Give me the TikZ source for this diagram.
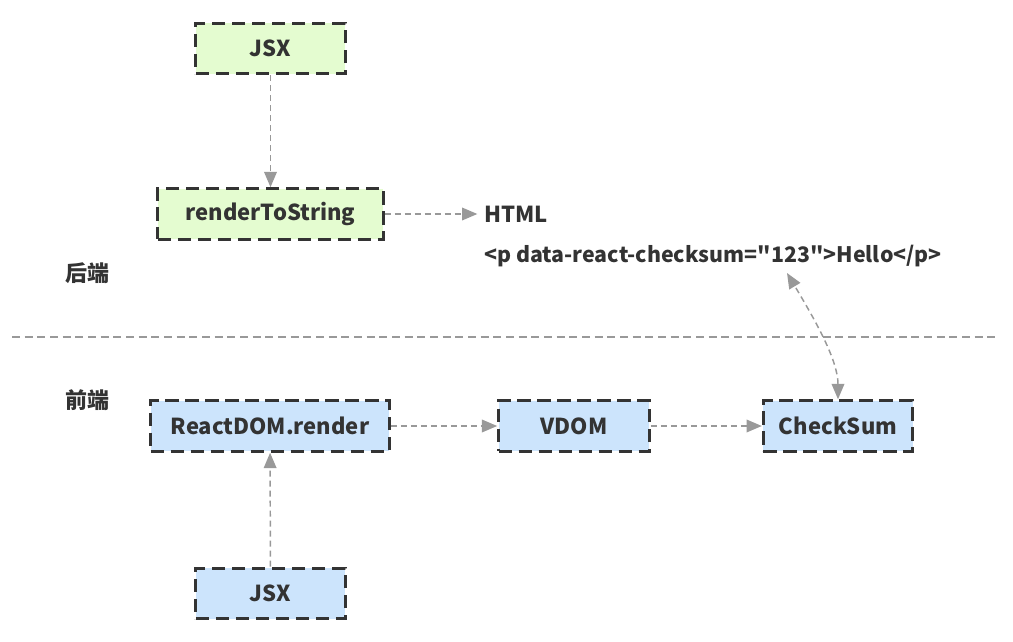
\documentclass[tikz,border=0pt]{standalone}
\usepackage{fontspec}
\setmainfont{Noto Sans CJK SC}
\newfontfamily\codefont{Noto Sans CJK SC}
\usepackage{xcolor}
\usepackage{tikz}
\usetikzlibrary{arrows.meta, positioning}
\definecolor{boxgreen}{HTML}{E4FCD0}
\definecolor{boxblue}{HTML}{CCE4FC}
\definecolor{linegray}{HTML}{999999}
\definecolor{edgedark}{HTML}{333333}
\tikzset{
    myarrow/.style={-{Triangle[length=11.5pt, width=9.5pt]}, draw=linegray, line width=1.1pt, dash pattern=on 4.5pt off 3pt},
    box/.style={draw=edgedark, rectangle, line width=2.2pt, dash pattern=on 10pt off 5pt, font=\bfseries\fontsize{16.5}{20}\selectfont, text=edgedark, minimum height=38pt, align=center},
    label/.style={font=\bfseries\fontsize{16.5}{20}\selectfont, text=edgedark, anchor=west, inner sep=0pt}
}
\begin{document}
\begin{tikzpicture}[x=0.75pt, y=-0.75pt]
    \useasboundingbox (0,0) rectangle (1013,642);
    % back end
    \node (jsxtop) [box, fill=boxgreen, minimum width=112pt] at (270.5,48.5) {JSX};
    \node (rts) [box, fill=boxgreen, minimum width=169pt] at (270.5,214) {renderToString};
    \node (html) [label] at (484,214) {HTML};
    \node (code) [label] at (484,256) {\codefont\bfseries\fontsize{16}{20}\selectfont <p data-react-checksum="123">Hello</p>};
    \node (back) [label] at (65,273) {后端};
    % divider
    \coordinate (divl) at (12,337);
    \coordinate (divr) at (996,337);
    \draw [linegray, line width=1.1pt, dash pattern=on 6pt off 3.5pt] (divl) -- (divr);
    % front end
    \node (front) [label] at (65,400) {前端};
    \node (render) [box, fill=boxblue, minimum width=179pt] at (270,426) {ReactDOM.render};
    \node (vdom) [box, fill=boxblue, minimum width=113pt] at (574,426) {VDOM};
    \node (check) [box, fill=boxblue, minimum width=112pt] at (838,426) {CheckSum};
    \node (jsxbot) [box, fill=boxblue, minimum width=112pt] at (270.5,593.5) {JSX};
    \coordinate (sum) at (787,273);
    \draw [myarrow] (jsxtop) -- (rts);
    \draw [myarrow, shorten >=5pt] (rts) -- (html);
    \draw [myarrow] (jsxbot) -- (render);
    \draw [myarrow] (render) -- (vdom);
    \draw [myarrow] (vdom) -- (check);
    \draw [myarrow, {Triangle[length=11.5pt, width=9.5pt]}-{Triangle[length=11.5pt, width=9.5pt]}] (check.north) .. controls (838,360) and (815,320) .. (sum);
\end{tikzpicture}
\end{document}
